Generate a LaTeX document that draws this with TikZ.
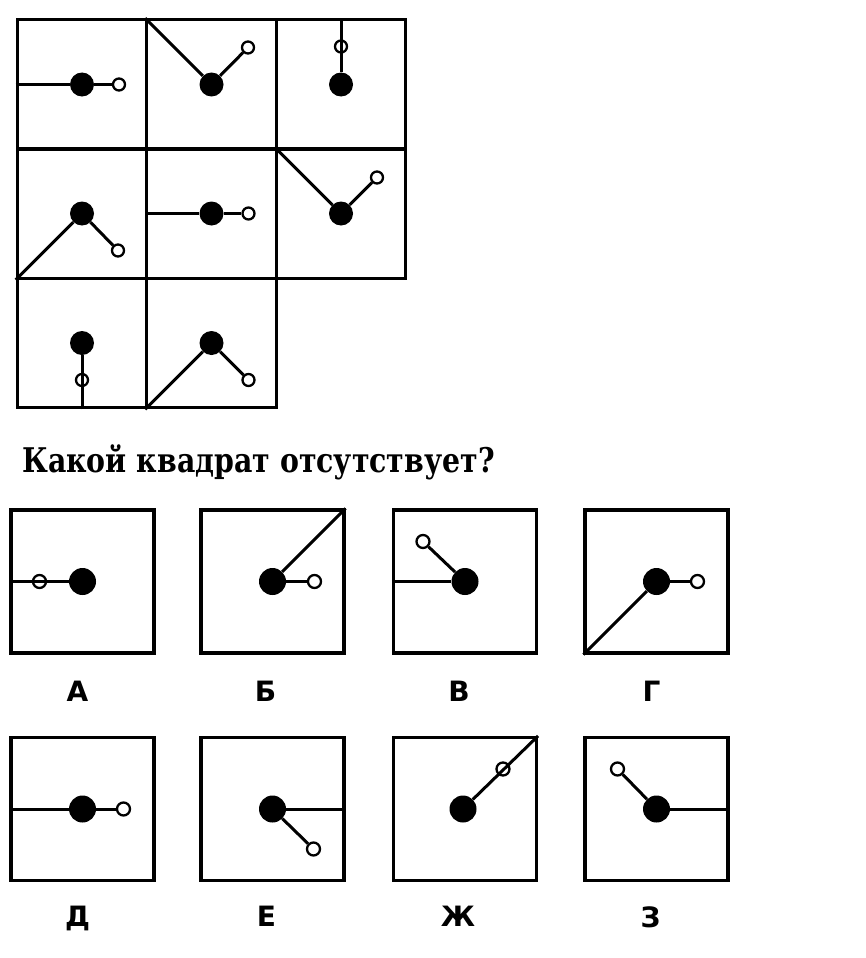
\documentclass[tikz,border=0pt]{standalone}
\usepackage{fontspec}
\setmainfont{DejaVu Serif}
\newfontfamily\lettersfont{DejaVu Sans}
\usetikzlibrary{positioning}

\tikzstyle{cell} = [rectangle, draw=black, line width=3.2pt, minimum size=129.5pt, inner sep=0pt]
\tikzstyle{choice} = [rectangle, draw=black, line width=3.2pt, minimum size=143pt, inner sep=0pt]
\tikzstyle{ball} = [circle, fill=black, inner sep=0pt, minimum size=24pt]
\tikzstyle{bigball} = [circle, fill=black, inner sep=0pt, minimum size=27pt]
\tikzstyle{ring} = [circle, draw=black, fill=white, line width=2.3pt, inner sep=0pt, minimum size=12pt]
\tikzstyle{bigring} = [ring, minimum size=13pt]
\tikzstyle{stick} = [line width=3pt]
\tikzstyle{letter} = [font=\lettersfont\bfseries\fontsize{28}{28}\selectfont, inner sep=0pt]

\begin{document}
\begin{tikzpicture}[x=1pt, y=-1pt]
\useasboundingbox (0,0) rectangle (866,958);

\node (c11) [cell] at (82,84.5) {};
\node (c12) [cell] at (211.5,84.5) {};
\node (c13) [cell] at (341,84.5) {};
\node (c21) [cell] at (82,213.5) {};
\node (c22) [cell] at (211.5,213.5) {};
\node (c23) [cell] at (341,213.5) {};
\node (c31) [cell] at (82,343) {};
\node (c32) [cell] at (211.5,343) {};

\node (b11) [ball] at (c11) {};
\node (r11) [ring] at ([xshift=37pt]b11) {};
\node (b12) [ball] at (c12) {};
\node (r12) [ring] at ([xshift=36.5pt,yshift=37pt]b12) {};
\node (b13) [ball] at (c13) {};
\node (r13) [ring] at ([yshift=38pt]b13) {};
\node (b21) [ball] at (c21) {};
\node (r21) [ring] at ([xshift=36pt,yshift=-37pt]b21) {};
\node (b22) [ball] at (c22) {};
\node (r22) [ring] at ([xshift=37pt]b22) {};
\node (b23) [ball] at (c23) {};
\node (r23) [ring] at ([xshift=36pt,yshift=36pt]b23) {};
\node (b31) [ball] at (c31) {};
\node (r31) [ring] at ([yshift=-37pt]b31) {};
\node (b32) [ball] at (c32) {};
\node (r32) [ring] at ([xshift=37pt,yshift=-37pt]b32) {};

\draw [stick] (c11.west) -- (b11);
\draw [stick] (b11) -- (r11);
\draw [stick] (c12.north west) -- (b12);
\draw [stick] (b12) -- (r12);
\draw [stick] (c13.north) -- (b13);
\draw [stick] (c21.south west) -- (b21);
\draw [stick] (b21) -- (r21);
\draw [stick] (c22.west) -- (b22);
\draw [stick] (b22) -- (r22);
\draw [stick] (c23.north west) -- (b23);
\draw [stick] (b23) -- (r23);
\draw [stick] (c31.south) -- (b31);
\draw [stick] (c32.south west) -- (b32);
\draw [stick] (b32) -- (r32);

\node (question) [anchor=base west, inner sep=0pt, font=\bfseries\fontsize{34}{34}\selectfont] at (22,472) {\scalebox{0.835}[1]{Какой квадрат отсутствует?}};

\node (boxA) [choice] at (82.5,581.5) {};
\node (boxB) [choice] at (272.5,581.5) {};
\node (boxV) [choice] at (465,581.5) {};
\node (boxG) [choice] at (656.5,581.5) {};
\node (boxD) [choice] at (82.5,809) {};
\node (boxE) [choice] at (272.5,809) {};
\node (boxZh) [choice] at (465,809) {};
\node (boxZ) [choice] at (656.5,809) {};

\node (bA) [bigball] at (boxA) {};
\node (rA) [bigring] at ([xshift=-43pt]bA) {};
\node (bB) [bigball] at (boxB) {};
\node (rB) [bigring] at ([xshift=42pt]bB) {};
\node (bV) [bigball] at (boxV) {};
\node (rV) [bigring] at ([xshift=-42pt,yshift=40pt]bV) {};
\node (bG) [bigball] at (boxG) {};
\node (rG) [bigring] at ([xshift=41pt]bG) {};
\node (bD) [bigball] at (boxD) {};
\node (rD) [bigring] at ([xshift=41pt]bD) {};
\node (bE) [bigball] at (boxE) {};
\node (rE) [bigring] at ([xshift=41pt,yshift=-40pt]bE) {};
\node (bZh) [bigball] at ([xshift=-2pt]boxZh) {};
\node (rZh) [bigring] at ([xshift=40pt,yshift=40pt]bZh) {};
\node (bZ) [bigball] at (boxZ) {};
\node (rZ) [bigring] at ([xshift=-39pt,yshift=40pt]bZ) {};

\draw [stick] (boxA.west) -- (bA);
\draw [stick] (bB) -- (rB);
\draw [stick] (bB) -- (boxB.north east);
\draw [stick] (boxV.west) -- (bV);
\draw [stick] (bV) -- (rV);
\draw [stick] (boxG.south west) -- (bG);
\draw [stick] (bG) -- (rG);
\draw [stick] (boxD.west) -- (bD);
\draw [stick] (bD) -- (rD);
\draw [stick] (bE) -- (boxE.east);
\draw [stick] (bE) -- (rE);
\draw [stick] (bZh) -- (boxZh.north east);
\draw [stick] (bZ) -- (boxZ.east);
\draw [stick] (bZ) -- (rZ);

\node (labA) [letter, below=26pt of boxA, xshift=-5pt] {А};
\node (labB) [letter, below=26pt of boxB, xshift=-7pt] {Б};
\node (labV) [letter, below=26pt of boxV, xshift=-6pt] {В};
\node (labG) [letter, below=26pt of boxG, xshift=-5pt] {Г};
\node (labD) [letter, below=24pt of boxD, xshift=-5pt] {Д};
\node (labE) [letter, below=24pt of boxE, xshift=-6pt] {Е};
\node (labZh) [letter, below=24pt of boxZh, xshift=-7pt] {Ж};
\node (labZ) [letter, below=24pt of boxZ, xshift=-6pt] {З};

\end{tikzpicture}
\end{document}
